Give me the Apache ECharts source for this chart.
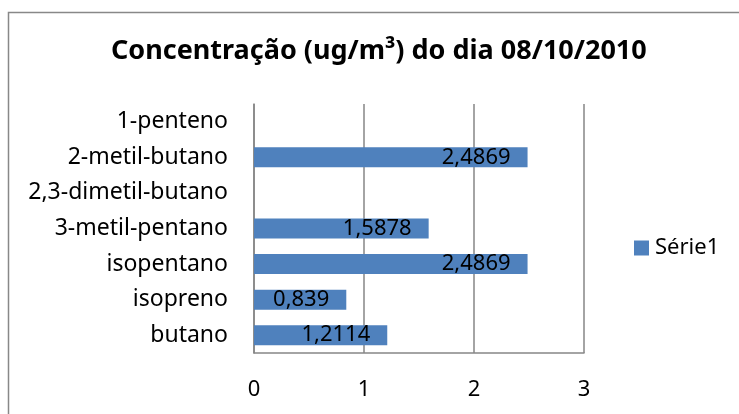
<!DOCTYPE html>
<html>
<head>
<meta charset="utf-8">
<script src="https://cdn.jsdelivr.net/npm/echarts@6/dist/echarts.min.js"></script>
<style>
  html, body { margin: 0; padding: 0; background: #fff; }
  #chart { width: 739px; height: 414px; }
</style>
</head>
<body>
<div id="chart"></div>
<script>
const categories = ['butano', 'isopreno', 'isopentano', '3-metil-pentano', '2,3-dimetil-butano', '2-metil-butano', '1-penteno']
const serie1 = [1.2114, 0.839, 2.4869, 1.5878, null, 2.4869, null]
const xTicks = [0, 1, 2, 3]

const font = '"Noto Sans", sans-serif'
const chart = echarts.init(document.getElementById('chart'))

chart.setOption({
  animation: false,
  textStyle: { fontFamily: font },
  graphic: [{
    type: 'rect',
    left: 6,
    top: 10,
    shape: { width: 800, height: 500 },
    style: { fill: 'none', stroke: '#888', lineWidth: 1.5 },
    silent: true
  }],
  title: {
    text: 'Concentração (ug/m³) do dia 08/10/2010',
    left: 111,
    top: 38,
    padding: 0,
    textStyle: { fontFamily: font, fontSize: 27, fontWeight: 'bold', color: '#000' }
  },
  legend: {
    left: 634,
    top: 237,
    orient: 'vertical',
    icon: 'rect',
    itemWidth: 15,
    itemHeight: 15,
    padding: 0,
    data: ['Série1'],
    textStyle: { fontFamily: font, fontSize: 22, color: '#000', padding: [0, 0, 0, 1] }
  },
  grid: { left: 254, right: 155, top: 104, bottom: 61 },
  xAxis: {
    type: 'value',
    min: 0,
    max: 3,
    interval: 1,
    axisLine: { show: true, lineStyle: { color: '#868686', width: 1.5 } },
    axisTick: { show: false },
    splitLine: { show: true, lineStyle: { color: '#868686', width: 1.5 } },
    axisLabel: {
      margin: 26,
      fontSize: 22,
      color: '#000',
      formatter: v => xTicks.includes(v) ? String(v) : ''
    }
  },
  yAxis: {
    type: 'category',
    data: categories,
    axisLine: { show: true, lineStyle: { color: '#868686', width: 1.5 } },
    axisTick: { show: false },
    axisLabel: { margin: 26, fontSize: 23, color: '#000' }
  },
  series: [{
    name: 'Série1',
    type: 'bar',
    data: serie1,
    barWidth: 20,
    itemStyle: { color: '#4F81BD' },
    label: {
      show: true,
      position: 'insideRight',
      distance: 17,
      fontSize: 22,
      color: '#000',
      formatter: p => String(p.value).replace('.', ',')
    }
  }]
})
</script>
</body>
</html>
